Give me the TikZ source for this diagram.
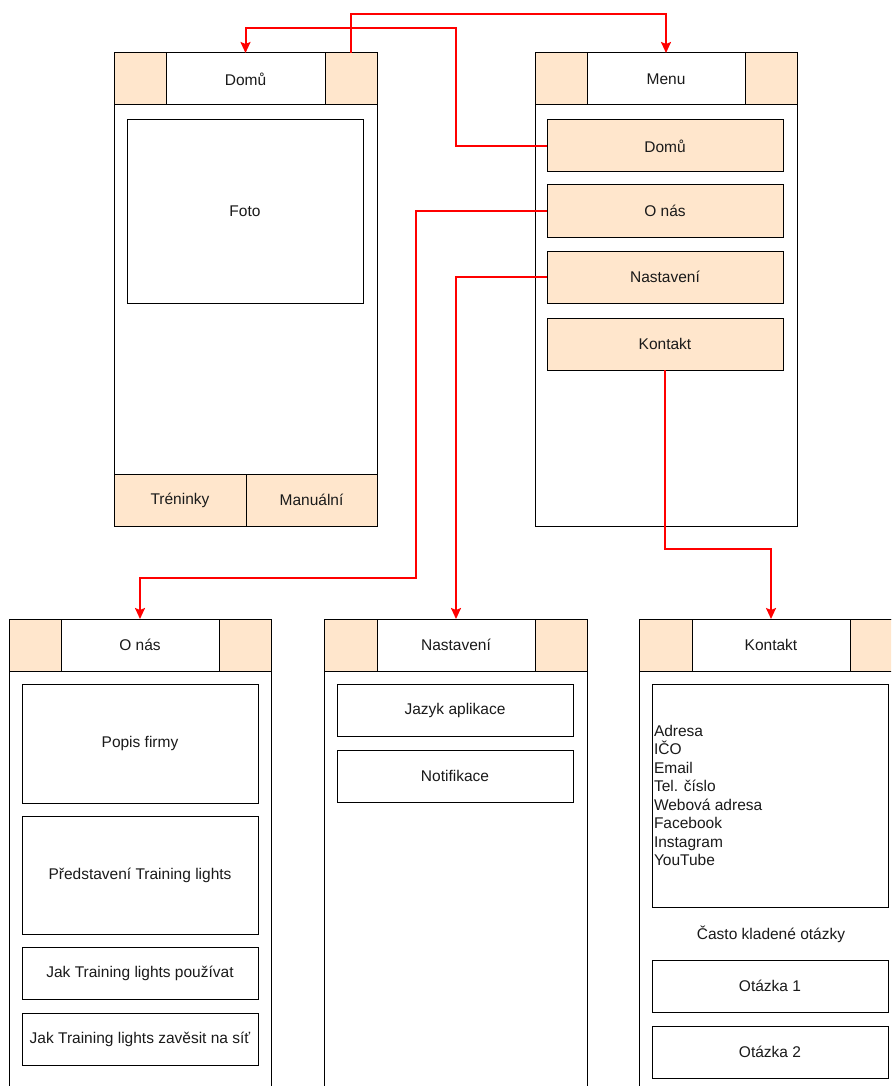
\documentclass[tikz,border=0pt]{standalone}
\usepackage{fontspec}
\setmainfont{Liberation Sans}
\usetikzlibrary{arrows.meta}
\definecolor{orangebg}{HTML}{FFE6CC}
\definecolor{txt}{HTML}{1A1A1A}
\tikzset{
  base/.style={draw=black, line width=1pt, inner sep=0pt, outer sep=0pt, anchor=north west,
    font=\fontsize{15.5}{18.5}\selectfont, text=txt},
  frame/.style={base, fill=white},
  org/.style={base, fill=orangebg},
  wbox/.style={base, fill=white},
  arr/.style={draw=red, line width=2pt, -{Stealth[length=11pt,width=10pt,inset=2pt]}},
}
\begin{document}
\begin{tikzpicture}[x=1pt,y=-1pt]
\useasboundingbox (0,0) rectangle (891,1086);
\clip (0,0) rectangle (891,1086);
% ---------- Domu phone ----------
\node[frame, minimum width=263, minimum height=473] (dF) at (114,53) {};
\node[org, minimum width=52, minimum height=52] (dL) at (114,53) {};
\node[wbox, minimum width=159, minimum height=52] (dT) at (166,53) {Domů};
\node[org, minimum width=52, minimum height=52] (dR) at (325,53) {};
\node[wbox, minimum width=236, minimum height=183] (foto) at (127,120) {Foto};
\node[org, minimum width=132, minimum height=52] (tren) at (114,474) {Tréninky};
\node[org, minimum width=131, minimum height=52] (man) at (246,474) {Manuální};
% ---------- Menu phone ----------
\node[frame, minimum width=262, minimum height=473] (mF) at (535,53) {};
\node[org, minimum width=52, minimum height=52] (mL) at (535,53) {};
\node[wbox, minimum width=158, minimum height=52] (mT) at (587,53) {Menu};
\node[org, minimum width=52, minimum height=52] (mR) at (745,53) {};
\node[org, minimum width=236, minimum height=52] (mb1) at (547,120) {Domů};
\node[org, minimum width=236, minimum height=52] (mb2) at (547,185) {O nás};
\node[org, minimum width=236, minimum height=52] (mb3) at (547,251) {Nastavení};
\node[org, minimum width=236, minimum height=52] (mb4) at (547,318) {Kontakt};
% ---------- O nas phone ----------
\node[frame, minimum width=262, minimum height=520] (oF) at (9,619) {};
\node[org, minimum width=52, minimum height=52] (oL) at (9,619) {};
\node[wbox, minimum width=158, minimum height=52] (oT) at (61,619) {O nás};
\node[org, minimum width=52, minimum height=52] (oR) at (219,619) {};
\node[wbox, minimum width=236, minimum height=119] (o1) at (22,684) {Popis firmy};
\node[wbox, minimum width=236, minimum height=118] (o2) at (22,816) {Představení Training lights};
\node[wbox, minimum width=236, minimum height=52] (o3) at (22,947) {Jak Training lights používat};
\node[wbox, minimum width=236, minimum height=52] (o4) at (22,1013) {Jak Training lights zavěsit na síť};
% ---------- Nastaveni phone ----------
\node[frame, minimum width=263, minimum height=520] (nF) at (324,619) {};
\node[org, minimum width=53, minimum height=52] (nL) at (324,619) {};
\node[wbox, minimum width=158, minimum height=52] (nT) at (377,619) {Nastavení};
\node[org, minimum width=52, minimum height=52] (nR) at (535,619) {};
\node[wbox, minimum width=236, minimum height=52] (n1) at (337,684) {Jazyk aplikace};
\node[wbox, minimum width=236, minimum height=52] (n2) at (337,750) {Notifikace};
% ---------- Kontakt phone ----------
\node[frame, minimum width=263, minimum height=520] (kF) at (639,619) {};
\node[org, minimum width=53, minimum height=52] (kL) at (639,619) {};
\node[wbox, minimum width=158, minimum height=52] (kT) at (692,619) {Kontakt};
\node[org, minimum width=52, minimum height=52] (kR) at (850,619) {};
\node[wbox, minimum width=236, minimum height=223] (kInfo) at (652,684) {};
\node[base, draw=none, anchor=west, align=left] (kText) at (654,795.5)
  {Adresa\\IČO\\Email\\Tel. číslo\\Webová adresa\\Facebook\\Instagram\\YouTube};
\node[base, draw=none, anchor=center] (faq) at (771,934) {Často kladené otázky};
\node[wbox, minimum width=236, minimum height=52] (q1) at (652,960) {Otázka 1};
\node[wbox, minimum width=236, minimum height=52] (q2) at (652,1026) {Otázka 2};
% ---------- connectors ----------
\draw[arr] (dR.north) -- (dR.north |- 0,14) -| (mT.north);
\draw[arr] (mb1.west) -| (456,28) -| (dT.north);
\draw[arr] (mb2.west) -| (416,578) -| (oT.north);
\draw[arr] (mb3.west) -| (nT.north);
\draw[arr] (mb4.south) |- (771,549) -- (kT.north);
\end{tikzpicture}
\end{document}
